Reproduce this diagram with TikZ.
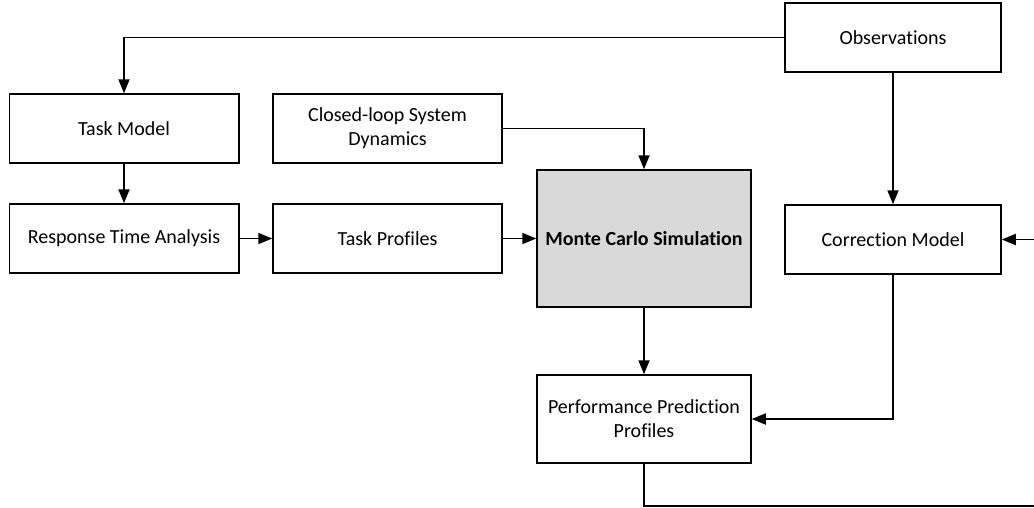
\documentclass[tikz,border=0pt]{standalone}
\usepackage{fontspec}
\setmainfont{Carlito}[Ligatures={NoCommon}]
\usetikzlibrary{arrows.meta}
\definecolor{mcgray}{HTML}{D9D9D9}
\begin{document}
\begin{tikzpicture}[x=1pt,y=-1pt,
  box/.style={draw=black,line width=1.5pt,align=center,inner sep=0pt,
    font=\fontsize{20}{24}\selectfont},
  arr/.style={line width=1.8pt,-{Triangle[length=14pt,width=11pt]}},
  ln/.style={line width=1.8pt}]
\useasboundingbox (0,0) rectangle (1034,507);
\clip (0,0) rectangle (1034,507);
\node[box,minimum width=216pt,minimum height=69pt] (obs) at (893,37.5) {Observations};
\node[box,minimum width=229.5pt,minimum height=69pt] (task) at (124,128.5) {Task Model};
\node[box,minimum width=229pt,minimum height=69pt] (cls) at (387.5,128.5) {Closed-loop System\\Dynamics};
\node[box,minimum width=229.5pt,minimum height=69pt] (rta) at (124,238.5) {Response Time Analysis};
\node[box,minimum width=229pt,minimum height=69pt] (tp) at (387.5,238.5) {Task Profiles};
\node[box,fill=mcgray,minimum width=214pt,minimum height=137pt,font=\fontsize{20}{24}\selectfont\bfseries] (mc) at (644,238.5) {Monte Carlo Simulation};
\node[box,minimum width=216pt,minimum height=69pt] (cm) at (893,239.5) {Correction Model};
\node[box,minimum width=214pt,minimum height=88pt] (ppp) at (644,419) {Performance Prediction\\Profiles};
\coordinate (loop) at (1045,506);
\draw[arr] (obs.west) -| (task.north);
\draw[arr] (task.south) -- (rta.north);
\draw[arr] (rta.east) -- (tp.west);
\draw[arr] (cls.east) -| (mc.north);
\draw[arr] (tp.east) -- (mc.west);
\draw[arr] (obs.south) -- (cm.north);
\draw[arr] (mc.south) -- (ppp.north);
\draw[arr] (cm.south) |- (ppp.east);
\draw[arr] (ppp.south) |- (loop) |- (cm.east);
\end{tikzpicture}
\end{document}
